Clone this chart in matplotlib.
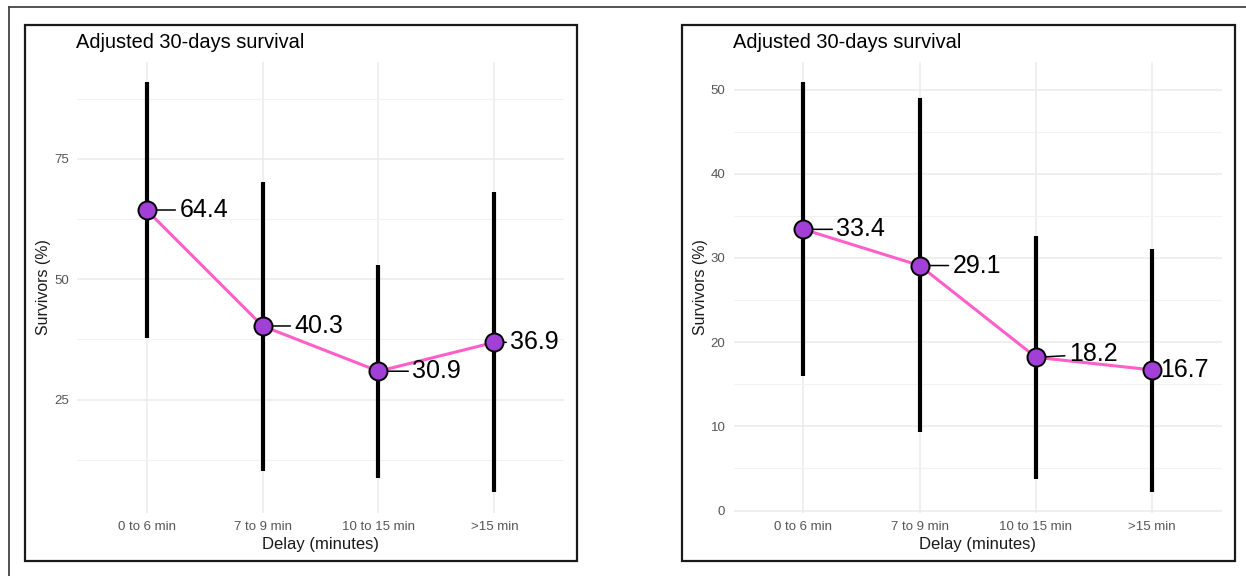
#!/usr/bin/python
"""
Adjusted 30-days survival by delay, two panels side by side.
"""

# IMPORT
import matplotlib
matplotlib.use("Agg")
import matplotlib.pyplot as plt
from matplotlib.patches import Rectangle
from matplotlib.lines import Line2D
from matplotlib.ticker import MultipleLocator

# VARIABLES
categories = ["0 to 6 min", "7 to 9 min", "10 to 15 min", ">15 min"]

left_est = [64.4, 40.3, 30.9, 36.9]
left_low = [37.8, 10.2, 8.7, 5.8]
left_high = [91.0, 70.3, 53.0, 68.1]

right_est = [33.4, 29.1, 18.2, 16.7]
right_low = [16.0, 9.3, 3.8, 2.2]
right_high = [50.9, 49.0, 32.6, 31.1]

title = "Adjusted 30-days survival"
xlab = "Delay (minutes)"
ylab = "Survivors (%)"

W, H = 1246, 576
plt.rcParams['font.family'] = ['Liberation Sans', 'DejaVu Sans']

# label offsets in pixels (dx, dy), like a repel layout
left_off = [(33, 0), (32, 0), (34, 0), (16, 0)]
right_off = [(33, 0), (33, 0), (33, 3), (8, 0)]


# FUNCTIONS
def panel(ax, est, low, high, major, offsets):
    x = list(range(len(categories)))
    lo, hi = min(low), max(high)
    pad = (hi - lo) * 0.05
    ax.set_ylim(lo - pad, hi + pad)
    ax.set_xlim(-0.6, len(categories) - 0.4)
    ax.yaxis.set_major_locator(MultipleLocator(major))
    ax.yaxis.set_minor_locator(MultipleLocator(major / 2))
    ax.set_xticks(x)
    ax.set_xticklabels(categories)
    for s in ax.spines.values():
        s.set_visible(False)
    ax.tick_params(axis='both', length=0, labelsize=9.5, labelcolor='#555555', pad=6)
    ax.tick_params(axis='y', which='minor', length=0)
    ax.grid(True, which='major', color='#ebebeb', lw=1.1)
    ax.grid(True, which='minor', axis='y', color='#f2f2f2', lw=0.8)
    ax.set_axisbelow(True)
    ax.vlines(x, low, high, color='black', lw=3.0, zorder=2)
    ax.plot(x, est, color='#ff5fc8', lw=2.2, zorder=3)
    ax.plot(x, est, 'o', ms=13, mfc='#a23fd6', mec='black', mew=1.4, zorder=5)
    for i, v in enumerate(est):
        dx, dy = offsets[i]
        ax.annotate(f"{v:.1f}", xy=(i, v), xytext=(dx, dy), textcoords='offset pixels',
                    ha='left', va='center', fontsize=18, color='black', zorder=4,
                    arrowprops=dict(arrowstyle='-', color='black', lw=1.1,
                                    shrinkA=1, shrinkB=0))
    ax.set_xlabel(xlab, fontsize=12, color='#1a1a1a', labelpad=3)
    ax.set_ylabel(ylab, fontsize=11.4, color='#1a1a1a', labelpad=2)


# MAIN
if __name__ == '__main__':
    fig = plt.figure(figsize=(W / 100, H / 100), dpi=100)

    ax1 = fig.add_axes([77 / W, 1 - 512.5 / H, 487 / W, 451 / H])
    ax2 = fig.add_axes([733.7 / W, 1 - 512.5 / H, 488.3 / W, 451 / H])
    panel(ax1, left_est, left_low, left_high, 25, left_off)
    panel(ax2, right_est, right_low, right_high, 10, right_off)

    fig.text(76 / W, 1 - 42 / H, title, fontsize=14.4, color='black', va='center', ha='left')
    fig.text(733 / W, 1 - 42 / H, title, fontsize=14.4, color='black', va='center', ha='left')

    # panel frames
    for x0, x1 in [(24.5, 577), (682, 1235)]:
        fig.patches.append(Rectangle((x0 / W, 1 - 561 / H), (x1 - x0) / W, (561 - 24.5) / H,
                                     transform=fig.transFigure, fill=False,
                                     ec='#1a1a1a', lw=1.6))
    # outer frame (left and top only visible)
    fig.lines.append(Line2D([9 / W, 9 / W], [0, 1 - 7 / H], transform=fig.transFigure,
                            color='#444444', lw=1.3))
    fig.lines.append(Line2D([9 / W, 1], [1 - 7 / H, 1 - 7 / H], transform=fig.transFigure,
                            color='#444444', lw=1.3))

    fig.savefig('out.png', dpi=100)
